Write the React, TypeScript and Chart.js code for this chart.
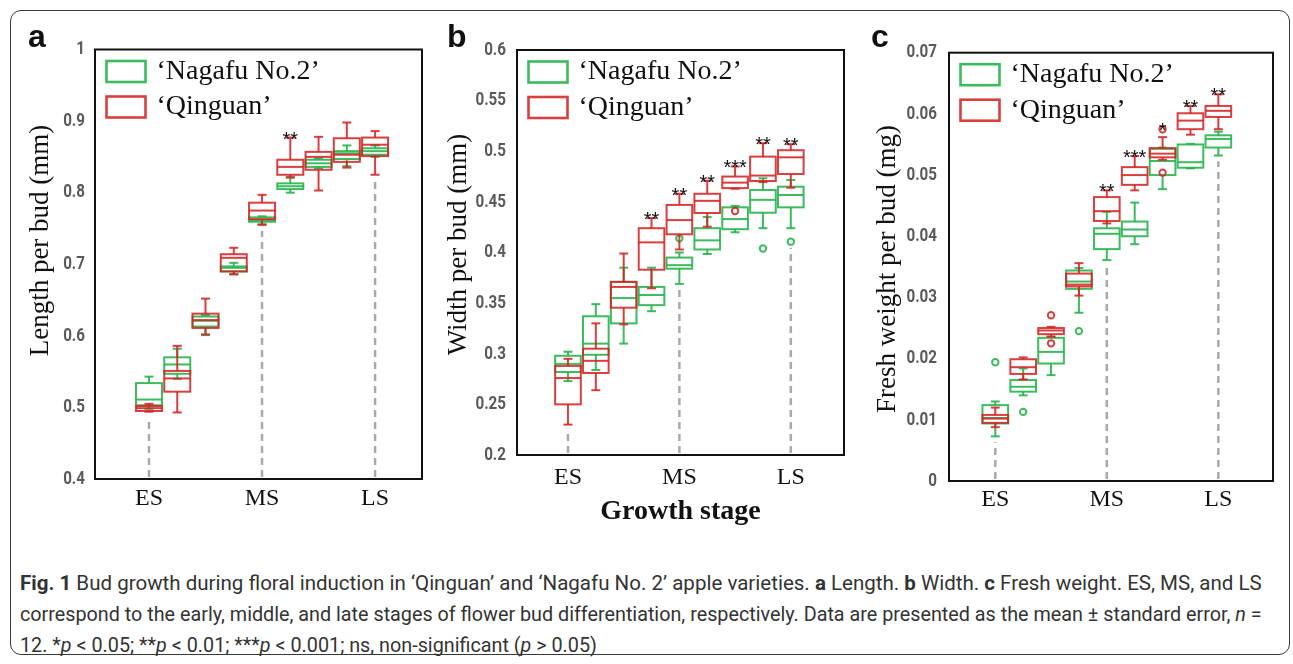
import React, { useEffect, useLayoutEffect, useRef } from "react";
import { Chart, registerables } from "chart.js";

Chart.register(...registerables);

// ---------- data ----------
const stageLabels = ["ES", "MS", "LS"];
const stageTickPositions = [0, 4, 8];
const samplingPoints = [0, 1, 2, 3, 4, 5, 6, 7, 8];
const legendLabels = ["\u2018Nagafu No.2\u2019", "\u2018Qinguan\u2019"];

// each entry: [min, q1, median, q3, max]
const lengthNagafu = [
  [0.498, 0.503, 0.511, 0.534, 0.543],
  [0.54, 0.547, 0.56, 0.57, 0.582],
  [0.601, 0.613, 0.621, 0.627, 0.629],
  [0.686, 0.69, 0.695, 0.697, 0.702],
  [0.756, 0.7594, 0.7617, 0.7655, 0.767],
  [0.8, 0.805, 0.809, 0.813, 0.822],
  [0.834, 0.836, 0.841, 0.846, 0.848],
  [0.837, 0.847, 0.855, 0.858, 0.866],
  [0.85, 0.853, 0.858, 0.862, 0.866],
];
const lengthQinguan = [
  [0.494, 0.495, 0.499, 0.502, 0.505],
  [0.493, 0.522, 0.5405, 0.551, 0.586],
  [0.602, 0.611, 0.622, 0.631, 0.652],
  [0.686, 0.69, 0.709, 0.714, 0.723],
  [0.755, 0.763, 0.775, 0.786, 0.797],
  [0.821, 0.825, 0.836, 0.846, 0.877],
  [0.803, 0.832, 0.85, 0.857, 0.878],
  [0.835, 0.843, 0.853, 0.876, 0.898],
  [0.825, 0.851, 0.867, 0.877, 0.886],
];
const lengthNagafuOutliers = [[], [], [], [], [], [], [], [], []];
const lengthQinguanOutliers = [[], [], [], [], [], [], [], [], []];
const lengthStars = ["", "", "", "", "", "**", "", "", ""];

const widthNagafu = [
  [0.273, 0.282, 0.29, 0.298, 0.302],
  [0.284, 0.299, 0.31, 0.337, 0.349],
  [0.31, 0.33, 0.355, 0.371, 0.385],
  [0.342, 0.348, 0.358, 0.366, 0.385],
  [0.369, 0.384, 0.3875, 0.395, 0.4],
  [0.3985, 0.403, 0.412, 0.424, 0.435],
  [0.42, 0.423, 0.433, 0.4446, 0.446],
  [0.424, 0.4393, 0.452, 0.4617, 0.4733],
  [0.424, 0.4446, 0.4568, 0.465, 0.4716],
];
const widthQinguan = [
  [0.23, 0.25, 0.276, 0.288, 0.295],
  [0.264, 0.281, 0.293, 0.305, 0.33],
  [0.329, 0.3455, 0.366, 0.371, 0.399],
  [0.3646, 0.383, 0.41, 0.424, 0.434],
  [0.403, 0.418, 0.432, 0.447, 0.458],
  [0.4255, 0.439, 0.451, 0.458, 0.471],
  [0.463, 0.4636, 0.469, 0.475, 0.485],
  [0.4695, 0.4706, 0.476, 0.4947, 0.508],
  [0.464, 0.4775, 0.494, 0.501, 0.507],
];
const widthNagafuOutliers = [[], [], [], [], [0.414], [], [], [0.404], [0.4107]];
const widthQinguanOutliers = [[], [], [], [], [], [], [0.441], [], []];
const widthStars = ["", "", "", "**", "**", "**", "***", "**", "**"];

const weightNagafu = [
  [0.0073, 0.0094, 0.0103, 0.0124, 0.013],
  [0.014, 0.0146, 0.0154, 0.0165, 0.0184],
  [0.0173, 0.0192, 0.0211, 0.0234, 0.0236],
  [0.0275, 0.0314, 0.0326, 0.0344, 0.0348],
  [0.0361, 0.0379, 0.0404, 0.0413, 0.044],
  [0.0387, 0.04, 0.0411, 0.0424, 0.0455],
  [0.0477, 0.05, 0.0523, 0.0543, 0.0545],
  [0.0511, 0.0512, 0.0521, 0.055, 0.0551],
  [0.0532, 0.0545, 0.0559, 0.0565, 0.0571],
];
const weightQinguan = [
  [0.0088, 0.0095, 0.0102, 0.0108, 0.012],
  [0.0166, 0.0175, 0.0186, 0.0199, 0.0202],
  [0.0236, 0.024, 0.0246, 0.025, 0.0252],
  [0.0303, 0.0318, 0.0321, 0.0339, 0.0356],
  [0.0421, 0.0425, 0.0441, 0.0464, 0.0475],
  [0.0475, 0.0484, 0.05, 0.0513, 0.0531],
  [0.0525, 0.0529, 0.0535, 0.0544, 0.0562],
  [0.0566, 0.0575, 0.0589, 0.0601, 0.0613],
  [0.0575, 0.0595, 0.0605, 0.0613, 0.0632],
];
const weightNagafuOutliers = [[0.0194], [0.0113], [], [0.0245], [], [], [], [], []];
const weightQinguanOutliers = [[], [], [0.0271, 0.0225], [], [], [], [0.0575, 0.0504], [], []];
const weightStars = ["", "", "", "", "**", "***", "*", "**", "**"];

// ---------- styles ----------
const GREEN = "rgba(40, 180, 78, 0.9)";
const RED = "rgba(212, 36, 36, 0.88)";
const SERIF = "'Liberation Serif', 'Times New Roman', serif";
const TICKFONT = "Roboto, 'Liberation Sans', Arial, sans-serif";
const SANS = "'Liberation Sans', Arial, sans-serif";
const CAPFONT = "Roboto, 'Liberation Sans', Arial, sans-serif";

const panels = [
  {
    key: "a",
    letterX: 28,
    canvas: { left: 12, top: 12, width: 418, height: 528 },
    padTop: 37.5, padRight: 8, yWidth: 83, xHeight: 61,
    xMin: -1.91, xMax: 9.66, xPad: 5,
    yMin: 0.4, yMax: 1, yStep: 0.1, yPad: 10,
    yTitle: "Length per bud (mm)", yTitleX: 29, yTitleY: 228.5,
    green: lengthNagafu, red: lengthQinguan,
    greenOut: lengthNagafuOutliers, redOut: lengthQinguanOutliers,
    stars: lengthStars, xTitle: "",
  },
  {
    key: "b",
    letterX: 447,
    canvas: { left: 432, top: 12, width: 428, height: 528 },
    padTop: 38, padRight: 16, yWidth: 85, xHeight: 85,
    xMin: -1.83, xMax: 9.91, xPad: 8,
    yMin: 0.2, yMax: 0.6, yStep: 0.05, yPad: 11,
    yTitle: "Width per bud (mm)", yTitleX: 27, yTitleY: 232.5,
    green: widthNagafu, red: widthQinguan,
    greenOut: widthNagafuOutliers, redOut: widthQinguanOutliers,
    stars: widthStars, xTitle: "Growth stage",
  },
  {
    key: "c",
    letterX: 871,
    canvas: { left: 862, top: 12, width: 424, height: 528 },
    padTop: 40.7, padRight: 13, yWidth: 87, xHeight: 59,
    xMin: -1.66, xMax: 9.96, xPad: 4.6,
    yMin: 0, yMax: 0.07, yStep: 0.01, yPad: 12,
    yTitle: "Fresh weight per bud (mg)", yTitleX: 26, yTitleY: 257,
    green: weightNagafu, red: weightQinguan,
    greenOut: weightNagafuOutliers, redOut: weightQinguanOutliers,
    stars: weightStars, xTitle: "",
  },
];

function fmtTick(v: number) {
  return String(parseFloat(Number(v).toFixed(3)));
}

function makeBoxPlugin(p: any) {
  return {
    id: "boxplot_" + p.key,
    afterDatasetsDraw(chart: any) {
      const ctx = chart.ctx;
      const xs = chart.scales.x;
      const ys = chart.scales.y;
      const ca = chart.chartArea;
      const halfW = 0.46;
      const capHalf = 0.16;
      const line = (x1: number, y1: number, x2: number, y2: number) => {
        ctx.beginPath();
        ctx.moveTo(x1, y1);
        ctx.lineTo(x2, y2);
        ctx.stroke();
      };
      ctx.save();
      // dashed drop lines at ES / MS / LS
      ctx.strokeStyle = "#a9a9a9";
      ctx.lineWidth = 2.5;
      ctx.setLineDash([7, 5]);
      stageTickPositions.forEach((pos) => {
        const lows = [p.green[pos][0], p.red[pos][0], ...p.greenOut[pos], ...p.redOut[pos]];
        const low = Math.min(...lows);
        const x = xs.getPixelForValue(pos);
        line(x, ca.bottom - 2, x, ys.getPixelForValue(low) + 6);
      });
      ctx.setLineDash([]);

      const drawSeries = (stats: number[][], outs: number[][], color: string) => {
        ctx.strokeStyle = color;
        ctx.lineWidth = 2;
        stats.forEach((st, i) => {
          const pos = samplingPoints[i];
          const [mn, q1, md, q3, mx] = st;
          const xc = xs.getPixelForValue(pos);
          const xl = xs.getPixelForValue(pos - halfW);
          const xr = xs.getPixelForValue(pos + halfW);
          const cl = xs.getPixelForValue(pos - capHalf);
          const cr = xs.getPixelForValue(pos + capHalf);
          const y = (v: number) => ys.getPixelForValue(v);
          line(xc, y(mx), xc, y(q3));
          line(xc, y(q1), xc, y(mn));
          line(cl, y(mx), cr, y(mx));
          line(cl, y(mn), cr, y(mn));
          ctx.strokeRect(xl, y(q3), xr - xl, y(q1) - y(q3));
          line(xl, y(md), xr, y(md));
          outs[i].forEach((o) => {
            ctx.beginPath();
            ctx.arc(xc, y(o), 3.2, 0, Math.PI * 2);
            ctx.stroke();
          });
        });
      };
      drawSeries(p.green, p.greenOut, GREEN);
      drawSeries(p.red, p.redOut, RED);

      // significance stars
      ctx.fillStyle = "#111";
      ctx.font = `20px ${SANS}`;
      ctx.textAlign = "center";
      ctx.textBaseline = "alphabetic";
      p.stars.forEach((s: string, i: number) => {
        if (!s) return;
        const pos = samplingPoints[i];
        const highs = [p.green[i][4], p.red[i][4], ...p.greenOut[i], ...p.redOut[i]];
        const hi = Math.max(...highs);
        ctx.fillText(s, xs.getPixelForValue(pos), ys.getPixelForValue(hi) + 8);
      });

      // plot frame
      ctx.strokeStyle = "#111";
      ctx.lineWidth = 2;
      ctx.strokeRect(ca.left, ca.top, ca.right - ca.left, ca.bottom - ca.top);

      // y tick labels (condensed) from the axis' own ticks
      ctx.fillStyle = "#5a5a5a";
      ctx.font = `bold 19px ${TICKFONT}`;
      ctx.textAlign = "right";
      ctx.textBaseline = "middle";
      ys.ticks.forEach((t: any) => {
        const yy = ys.getPixelForValue(t.value);
        ctx.save();
        ctx.translate(ca.left - p.yPad, yy);
        ctx.scale(0.8, 1);
        ctx.fillText(fmtTick(t.value), 0, 0);
        ctx.restore();
      });

      // legend
      const lx = ca.left + 11.5;
      const rows = [ca.top + 22, ca.top + 57.5];
      [GREEN, RED].forEach((c, k) => {
        ctx.strokeStyle = c;
        ctx.lineWidth = 2.6;
        ctx.strokeRect(lx, rows[k] - 10.5, 39, 21);
        ctx.fillStyle = "#111";
        ctx.font = `28px ${SERIF}`;
        ctx.textAlign = "left";
        ctx.textBaseline = "middle";
        ctx.fillText(legendLabels[k], lx + 50, rows[k]);
      });

      // y-axis title
      ctx.save();
      ctx.translate(p.yTitleX, p.yTitleY);
      ctx.rotate(-Math.PI / 2);
      ctx.fillStyle = "#111";
      ctx.font = `27px ${SERIF}`;
      ctx.textAlign = "center";
      ctx.textBaseline = "middle";
      ctx.fillText(p.yTitle, 0, 0);
      ctx.restore();

      ctx.restore();
    },
  };
}

function BoxPanel({ p }: { p: any }) {
  const ref = useRef<HTMLCanvasElement | null>(null);
  useEffect(() => {
    if (!ref.current) return;
    const chart = new Chart(ref.current, {
      type: "scatter",
      data: {
        datasets: [
          {
            label: legendLabels[0],
            data: samplingPoints.map((x, i) => ({ x, y: p.green[i][2] })),
            pointRadius: 0,
            borderColor: GREEN,
          },
          {
            label: legendLabels[1],
            data: samplingPoints.map((x, i) => ({ x, y: p.red[i][2] })),
            pointRadius: 0,
            borderColor: RED,
          },
        ],
      },
      options: {
        animation: false,
        responsive: false,
        events: [],
        layout: { padding: { left: 0, top: p.padTop, right: p.padRight, bottom: 0 } },
        plugins: { legend: { display: false }, tooltip: { enabled: false } },
        scales: {
          x: {
            type: "linear",
            min: p.xMin,
            max: p.xMax,
            grid: { display: false, drawTicks: false },
            border: { display: false },
            afterBuildTicks: (s: any) => {
              s.ticks = stageTickPositions.map((v) => ({ value: v }));
            },
            afterFit: (s: any) => {
              s.height = p.xHeight;
            },
            ticks: {
              autoSkip: false,
              maxRotation: 0,
              padding: p.xPad,
              color: "#111",
              font: { family: SERIF, size: 24 },
              callback: (v: any) => {
                const k = stageTickPositions.indexOf(Number(v));
                return k >= 0 ? stageLabels[k] : "";
              },
            },
            title: p.xTitle
              ? {
                  display: true,
                  text: p.xTitle,
                  color: "#111",
                  font: { family: SERIF, size: 28, weight: "bold" },
                  padding: { top: 0, bottom: 11.5 },
                }
              : { display: false },
          },
          y: {
            type: "linear",
            min: p.yMin,
            max: p.yMax,
            grid: { display: false, drawTicks: false },
            border: { display: false },
            afterFit: (s: any) => {
              s.width = p.yWidth;
            },
            ticks: {
              stepSize: p.yStep,
              display: false,
            },
          },
        },
      },
      plugins: [makeBoxPlugin(p)],
    } as any);
    return () => chart.destroy();
  }, [p]);
  return (
    <canvas
      ref={ref}
      width={p.canvas.width}
      height={p.canvas.height}
      style={{
        position: "absolute",
        left: p.canvas.left,
        top: p.canvas.top,
        width: p.canvas.width,
        height: p.canvas.height,
      }}
    />
  );
}

export default function App() {
  const l1 = useRef<HTMLDivElement | null>(null);
  const l2 = useRef<HTMLDivElement | null>(null);
  const l3 = useRef<HTMLDivElement | null>(null);

  useLayoutEffect(() => {
    const fit = () => {
      if (!l1.current || !l2.current || !l3.current) return;
      const w1 = l1.current.offsetWidth;
      const w2 = l2.current.offsetWidth;
      if (!w1 || !w2) return;
      const s2 = 1242 / w2;
      const s1 = 1242 / w1;
      l1.current.style.transform = `scaleX(${s1})`;
      l2.current.style.transform = `scaleX(${s2})`;
      l3.current.style.transform = `scaleX(${s2})`;
    };
    fit();
    if ((document as any).fonts && (document as any).fonts.ready) {
      (document as any).fonts.ready.then(fit);
    }
  }, []);

  const capStyle: React.CSSProperties = {
    position: "absolute",
    left: 20,
    whiteSpace: "nowrap",
    fontFamily: CAPFONT,
    fontSize: 20,
    lineHeight: "31px",
    color: "#333",
    transformOrigin: "left top",
  };
  return (
    <div
      style={{
        position: "absolute",
        left: 0,
        top: 0,
        width: 1293,
        height: 664,
        background: "#fff",
        overflow: "hidden",
      }}
    >
      <div
        style={{
          position: "absolute",
          left: 10,
          top: 10,
          width: 1280,
          height: 645,
          border: "1.5px solid #3a3a3a",
          borderRadius: 11,
          boxSizing: "border-box",
        }}
      />
      {panels.map((p) => (
        <BoxPanel key={p.key} p={p} />
      ))}
      {panels.map((p) => (
        <div
          key={"L" + p.key}
          style={{
            position: "absolute",
            left: p.letterX,
            top: 20,
            fontFamily: SANS,
            fontWeight: "bold",
            fontSize: 32,
            lineHeight: "32px",
            color: "#111",
          }}
        >
          {p.key}
        </div>
      ))}
      <div ref={l1} style={{ ...capStyle, top: 568 }}>
        <b>Fig. 1</b> Bud growth during floral induction in {"\u2018"}Qinguan{"\u2019"} and {"\u2018"}Nagafu No. 2{"\u2019"} apple varieties.{" "}
        <b>a</b> Length. <b>b</b> Width. <b>c</b> Fresh weight. ES, MS, and LS
      </div>
      <div ref={l2} style={{ ...capStyle, top: 599 }}>
        correspond to the early, middle, and late stages of flower bud differentiation, respectively. Data are presented as the mean ± standard error, <i>n</i> =
      </div>
      <div ref={l3} style={{ ...capStyle, top: 630 }}>
        12. *<i>p</i> &lt; 0.05; **<i>p</i> &lt; 0.01; ***<i>p</i> &lt; 0.001; ns, non-significant (<i>p</i> &gt; 0.05)
      </div>
    </div>
  );
}
